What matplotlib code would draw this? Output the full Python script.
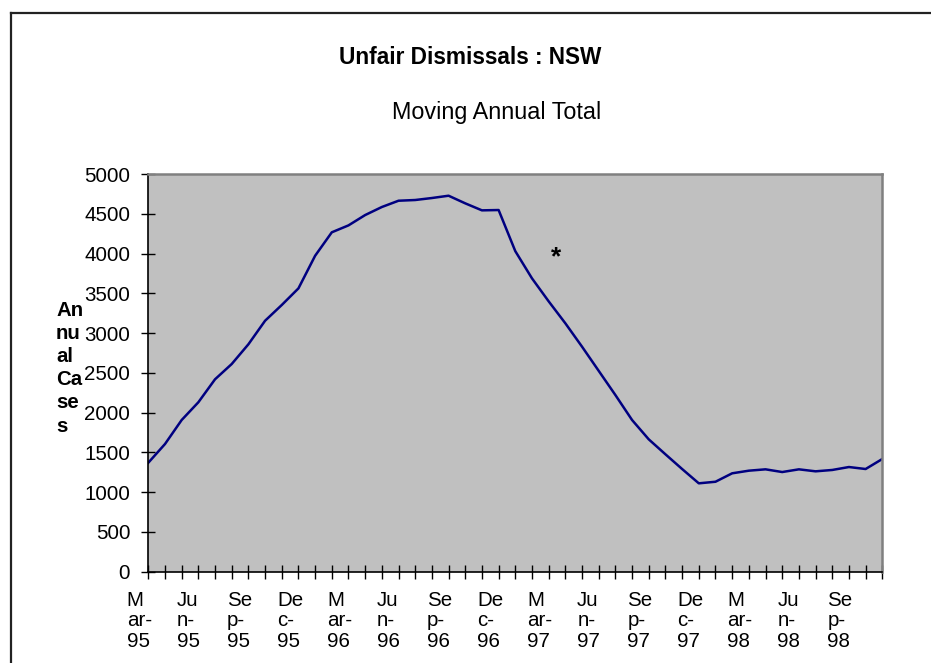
import numpy as np
import matplotlib
matplotlib.use('Agg')
import matplotlib.pyplot as plt
import matplotlib.transforms as mtransforms
from matplotlib.lines import Line2D

plt.rcParams['font.family'] = ['Liberation Sans', 'DejaVu Sans']

# monthly moving annual total, Mar-95 .. Nov-98
months = ['Mar-95', 'Apr-95', 'May-95', 'Jun-95', 'Jul-95', 'Aug-95', 'Sep-95', 'Oct-95', 'Nov-95',
          'Dec-95', 'Jan-96', 'Feb-96', 'Mar-96', 'Apr-96', 'May-96', 'Jun-96', 'Jul-96', 'Aug-96',
          'Sep-96', 'Oct-96', 'Nov-96', 'Dec-96', 'Jan-97', 'Feb-97', 'Mar-97', 'Apr-97', 'May-97',
          'Jun-97', 'Jul-97', 'Aug-97', 'Sep-97', 'Oct-97', 'Nov-97', 'Dec-97', 'Jan-98', 'Feb-98',
          'Mar-98', 'Apr-98', 'May-98', 'Jun-98', 'Jul-98', 'Aug-98', 'Sep-98', 'Oct-98', 'Nov-98']
cases = [1370, 1605, 1907, 2130, 2419, 2611, 2859, 3155, 3353, 3562, 3972, 4267, 4354, 4484, 4585,
         4664, 4673, 4698, 4727, 4631, 4543, 4547, 4030, 3688, 3399, 3123, 2829, 2525, 2221, 1907,
         1664, 1476, 1291, 1111, 1131, 1237, 1270, 1287, 1253, 1287, 1262, 1279, 1316, 1291, 1417]

# labels as wrapped in the original (every third month)
labelled = ['Mar-95', 'Jun-95', 'Sep-95', 'Dec-95', 'Mar-96', 'Jun-96', 'Sep-96', 'Dec-96',
            'Mar-97', 'Jun-97', 'Sep-97', 'Dec-97', 'Mar-98', 'Jun-98', 'Sep-98']
wrapped = ['M\nar-\n95', 'Ju\nn-\n95', 'Se\np-\n95', 'De\nc-\n95', 'M\nar-\n96', 'Ju\nn-\n96',
           'Se\np-\n96', 'De\nc-\n96', 'M\nar-\n97', 'Ju\nn-\n97', 'Se\np-\n97', 'De\nc-\n97',
           'M\nar-\n98', 'Ju\nn-\n98', 'Se\np-\n98']

W, H = 931, 663
fig = plt.figure(figsize=(W / 100, H / 100), dpi=100)
ax = fig.add_axes([148.3 / W, 1 - 571.7 / H, 734 / W, 397.7 / H])

ax.set_facecolor('#C0C0C0')
x = np.arange(len(months))
ax.plot(x, cases, color='#000080', lw=1.8)
ax.set_xlim(0, len(months) - 1)
ax.set_ylim(0, 5000)

ax.set_yticks(range(0, 5001, 500))
ax.tick_params(axis='y', direction='inout', length=10, width=1, labelsize=14.8, pad=8)

ax.set_xticks(x)
tick_text = [''] * len(months)
for m, w in zip(labelled, wrapped):
    tick_text[months.index(m)] = w
ax.set_xticklabels(tick_text)
ax.tick_params(axis='x', direction='inout', length=10, width=1, labelsize=14.8, pad=9)
shift = mtransforms.ScaledTranslation(-21.5 / 100, 0, fig.dpi_scale_trans)
for lbl in ax.get_xticklabels():
    lbl.set_ha('left')
    lbl.set_multialignment('left')
    lbl.set_linespacing(1.08)
    lbl.set_transform(lbl.get_transform() + shift)

for s in ['left', 'bottom']:
    ax.spines[s].set_color('black')
    ax.spines[s].set_linewidth(1.2)
for s in ['top', 'right']:
    ax.spines[s].set_color('#808080')
    ax.spines[s].set_linewidth(1.8)

ax.text(24.46, 3950, '*', ha='center', va='center', fontsize=19, fontweight='bold')

# outer chart border (top and left edges visible)
fig.add_artist(Line2D([11 / W, 11 / W], [0, 1 - 13 / H], transform=fig.transFigure, color='#222222', lw=1.6))
fig.add_artist(Line2D([11 / W, 1], [1 - 13 / H, 1 - 13 / H], transform=fig.transFigure, color='#222222', lw=1.6))

fig.text(470.5 / W, 1 - 57 / H, 'Unfair Dismissals : NSW', ha='center', va='center',
         fontsize=16.3, fontweight='bold')
fig.text(496.7 / W, 1 - 113 / H, 'Moving Annual Total', ha='center', va='center', fontsize=16.8)
fig.text(56 / W, 1 - 368 / H, 'An\nnu\nal\nCa\nse\ns', ha='left', va='center',
         fontsize=14.7, fontweight='bold', linespacing=1.28)

fig.savefig('out.png', dpi=100)
